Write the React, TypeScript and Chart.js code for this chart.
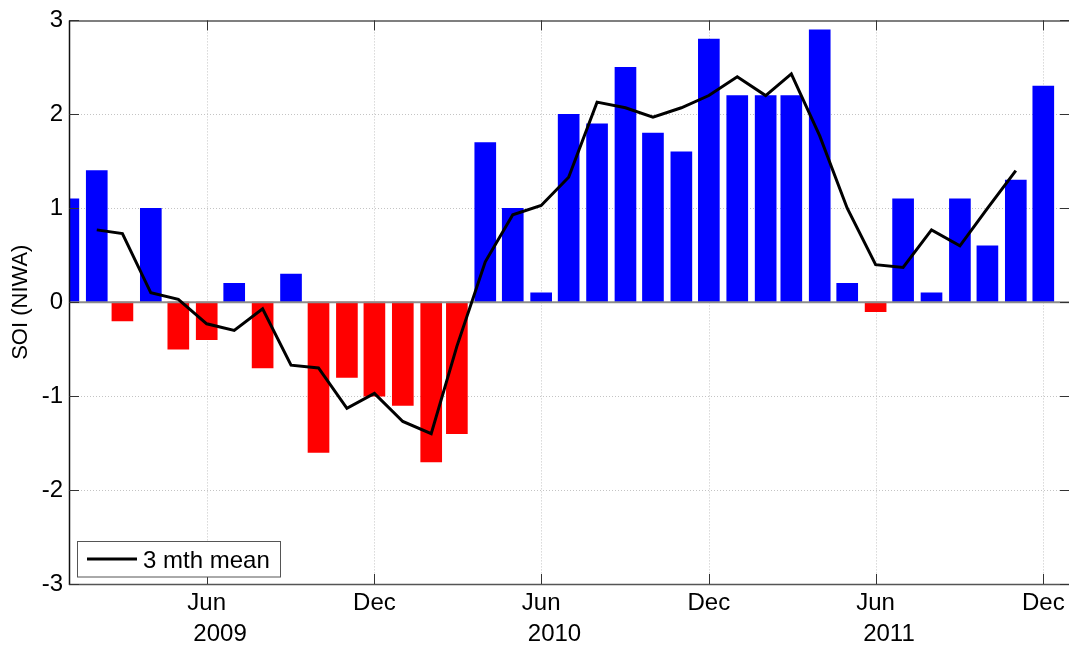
import React, { useEffect, useRef } from 'react';
import { Chart, registerables } from 'chart.js';

Chart.register(...registerables);

// ---- data ----
const months = [
  '2009-01', '2009-02', '2009-03', '2009-04', '2009-05', '2009-06',
  '2009-07', '2009-08', '2009-09', '2009-10', '2009-11', '2009-12',
  '2010-01', '2010-02', '2010-03', '2010-04', '2010-05', '2010-06',
  '2010-07', '2010-08', '2010-09', '2010-10', '2010-11', '2010-12',
  '2011-01', '2011-02', '2011-03', '2011-04', '2011-05', '2011-06',
  '2011-07', '2011-08', '2011-09', '2011-10', '2011-11', '2011-12',
];
const soiValues = [
  1.1, 1.4, -0.2, 1.0, -0.5, -0.4,
  0.2, -0.7, 0.3, -1.6, -0.8, -1.0,
  -1.1, -1.7, -1.4, 1.7, 1.0, 0.1,
  2.0, 1.9, 2.5, 1.8, 1.6, 2.8,
  2.2, 2.2, 2.2, 2.9, 0.2, -0.1,
  1.1, 0.1, 1.1, 0.6, 1.3, 2.3,
];
const meanMonths = [
  '2009-02', '2009-03', '2009-04', '2009-05', '2009-06',
  '2009-07', '2009-08', '2009-09', '2009-10', '2009-11', '2009-12',
  '2010-01', '2010-02', '2010-03', '2010-04', '2010-05', '2010-06',
  '2010-07', '2010-08', '2010-09', '2010-10', '2010-11', '2010-12',
  '2011-01', '2011-02', '2011-03', '2011-04', '2011-05', '2011-06',
  '2011-07', '2011-08', '2011-09', '2011-10', '2011-11',
];
const meanValues = [
  0.77, 0.73, 0.10, 0.03, -0.23,
  -0.30, -0.07, -0.67, -0.70, -1.13, -0.97,
  -1.27, -1.40, -0.47, 0.43, 0.93, 1.03,
  1.33, 2.13, 2.07, 1.97, 2.07, 2.20,
  2.40, 2.20, 2.43, 1.77, 1.00, 0.40,
  0.37, 0.77, 0.60, 1.00, 1.40,
];
const tickMonths = ['2009-06', '2009-12', '2010-06', '2010-12', '2011-06', '2011-12'];
const tickLabels = [
  ['Jun', '    2009'],
  ['Dec'],
  ['Jun', '    2010'],
  ['Dec'],
  ['Jun', '    2011'],
  ['Dec'],
];
const yTicks = [-3, -2, -1, 0, 1, 2, 3];
const yTitle = 'SOI (NIWA)';
const legendLabel = '3 mth mean';

// ---- helpers ----
const START = Date.UTC(2009, 0, 1);
const dayOf = (m: string) => {
  const [yy, mm] = m.split('-').map(Number);
  return (Date.UTC(yy, mm - 1, 1) - START) / 86400000;
};
const tickDays = tickMonths.map(dayOf);

const FONT = "'Liberation Sans', Arial, Helvetica, sans-serif";

const framePlugin = {
  id: 'frame',
  beforeDatasetsDraw(chart: any) {
    const { ctx, chartArea: a, scales } = chart;
    const x = scales.x;
    const y = scales.y;
    ctx.save();
    ctx.strokeStyle = '#c4c4c4';
    ctx.lineWidth = 1;
    ctx.setLineDash([1, 2]);
    yTicks.forEach((v) => {
      if (v === -3 || v === 3 || v === 0) return;
      const py = Math.round(y.getPixelForValue(v)) + 0.5;
      ctx.beginPath();
      ctx.moveTo(a.left, py);
      ctx.lineTo(a.right, py);
      ctx.stroke();
    });
    tickDays.forEach((d) => {
      const px = Math.round(x.getPixelForValue(d)) + 0.5;
      ctx.beginPath();
      ctx.moveTo(px, a.top);
      ctx.lineTo(px, a.bottom);
      ctx.stroke();
    });
    ctx.restore();
  },
  afterDatasetDraw(chart: any, args: any) {
    if (args.index !== 0) return;
    const { ctx, chartArea: a, scales } = chart;
    const py = scales.y.getPixelForValue(0);
    ctx.save();
    ctx.strokeStyle = '#8c8c8c';
    ctx.lineWidth = 2;
    ctx.beginPath();
    ctx.moveTo(a.left, py);
    ctx.lineTo(a.right, py);
    ctx.stroke();
    ctx.restore();
  },
  afterDatasetsDraw(chart: any) {
    const { ctx, chartArea: a, scales } = chart;
    const x = scales.x;
    const y = scales.y;
    ctx.save();
    // axes lines
    ctx.lineWidth = 1.5;
    ctx.strokeStyle = '#555';
    ctx.beginPath();
    ctx.moveTo(a.left, a.top + 0.5);
    ctx.lineTo(a.right, a.top + 0.5);
    ctx.moveTo(a.left, a.bottom + 0.5);
    ctx.lineTo(a.right, a.bottom + 0.5);
    ctx.stroke();
    ctx.strokeStyle = '#111';
    ctx.beginPath();
    ctx.moveTo(a.left + 0.5, a.top);
    ctx.lineTo(a.left + 0.5, a.bottom + 1);
    ctx.stroke();
    // tick marks
    ctx.lineWidth = 1;
    ctx.strokeStyle = '#333';
    ctx.beginPath();
    yTicks.forEach((v) => {
      const py = Math.round(y.getPixelForValue(v)) + 0.5;
      ctx.moveTo(a.left, py);
      ctx.lineTo(a.left + 10, py);
      ctx.moveTo(a.right + 1, py);
      ctx.lineTo(a.right - 9, py);
    });
    tickDays.forEach((d) => {
      const px = Math.round(x.getPixelForValue(d)) + 0.5;
      ctx.moveTo(px, a.bottom);
      ctx.lineTo(px, a.bottom - 10);
      ctx.moveTo(px, a.top);
      ctx.lineTo(px, a.top + 10);
    });
    ctx.stroke();
    // legend box
    const lx = 77.5, ly = 541.5, lw = 203, lh = 35.5;
    ctx.fillStyle = '#fff';
    ctx.fillRect(lx, ly, lw, lh);
    ctx.strokeStyle = '#555';
    ctx.lineWidth = 1;
    ctx.strokeRect(lx, ly, lw, lh);
    ctx.strokeStyle = '#000';
    ctx.lineWidth = 3;
    ctx.beginPath();
    ctx.moveTo(87, 559);
    ctx.lineTo(137, 559);
    ctx.stroke();
    ctx.fillStyle = '#000';
    ctx.font = `24px ${FONT}`;
    ctx.textAlign = 'left';
    ctx.textBaseline = 'alphabetic';
    ctx.fillText(legendLabel, 143, 568);
    ctx.restore();
  },
};

export default function App() {
  const canvasRef = useRef<HTMLCanvasElement | null>(null);

  useEffect(() => {
    const canvas = canvasRef.current;
    if (!canvas) return;
    const barData = months.map((m, i) => ({ x: dayOf(m), y: soiValues[i] }));
    const lineData = meanMonths.map((m, i) => ({ x: dayOf(m), y: meanValues[i] }));

    const chart = new Chart(canvas, {
      type: 'bar',
      data: {
        datasets: [
          {
            type: 'bar',
            label: 'SOI',
            data: barData as any,
            order: 2,
            barThickness: 21,
            clip: 0,
            backgroundColor: (c: any) => (c.raw && c.raw.y < 0 ? '#ff0000' : '#0000ff'),
            borderWidth: 0,
          } as any,
          {
            type: 'line',
            label: legendLabel,
            data: lineData as any,
            order: 1,
            borderColor: '#000',
            borderWidth: 3,
            pointRadius: 0,
            tension: 0,
            fill: false,
          } as any,
        ],
      },
      options: {
        responsive: false,
        animation: false,
        events: [],
        layout: { padding: { top: 19, left: 0, right: 0, bottom: 0 } },
        plugins: {
          legend: { display: false },
          tooltip: { enabled: false },
        },
        scales: {
          x: {
            type: 'linear',
            min: 0.7,
            max: 1092.05,
            offset: false,
            grid: { display: false, drawTicks: false, offset: false },
            border: { display: false },
            afterBuildTicks: (s: any) => {
              s.ticks = tickDays.map((v) => ({ value: v }));
            },
            afterFit: (s: any) => {
              s.height = 62;
            },
            ticks: {
              autoSkip: false,
              maxRotation: 0,
              minRotation: 0,
              padding: 4,
              color: '#000',
              font: { family: FONT, size: 24, lineHeight: 1.28 },
              callback: (v: any) => {
                const i = tickDays.indexOf(Number(v));
                return i >= 0 ? tickLabels[i] : '';
              },
            },
          },
          y: {
            type: 'linear',
            min: -3,
            max: 3,
            grid: { display: false, drawTicks: false },
            border: { display: false },
            afterFit: (s: any) => {
              s.width = 69;
            },
            ticks: {
              stepSize: 1,
              padding: 6,
              color: '#000',
              font: { family: FONT, size: 24 },
              callback: (v: any) => String(v),
            },
            title: {
              display: true,
              text: yTitle,
              color: '#000',
              font: { family: FONT, size: 22 },
              padding: { top: 8, bottom: 0 },
            },
          },
        },
      } as any,
      plugins: [framePlugin],
    });
    return () => chart.destroy();
  }, []);

  return (
    <div style={{ position: 'fixed', left: 0, top: 0, width: 1069, height: 646, background: '#fff' }}>
      <canvas ref={canvasRef} width={1069} height={646} style={{ display: 'block' }} />
    </div>
  );
}
